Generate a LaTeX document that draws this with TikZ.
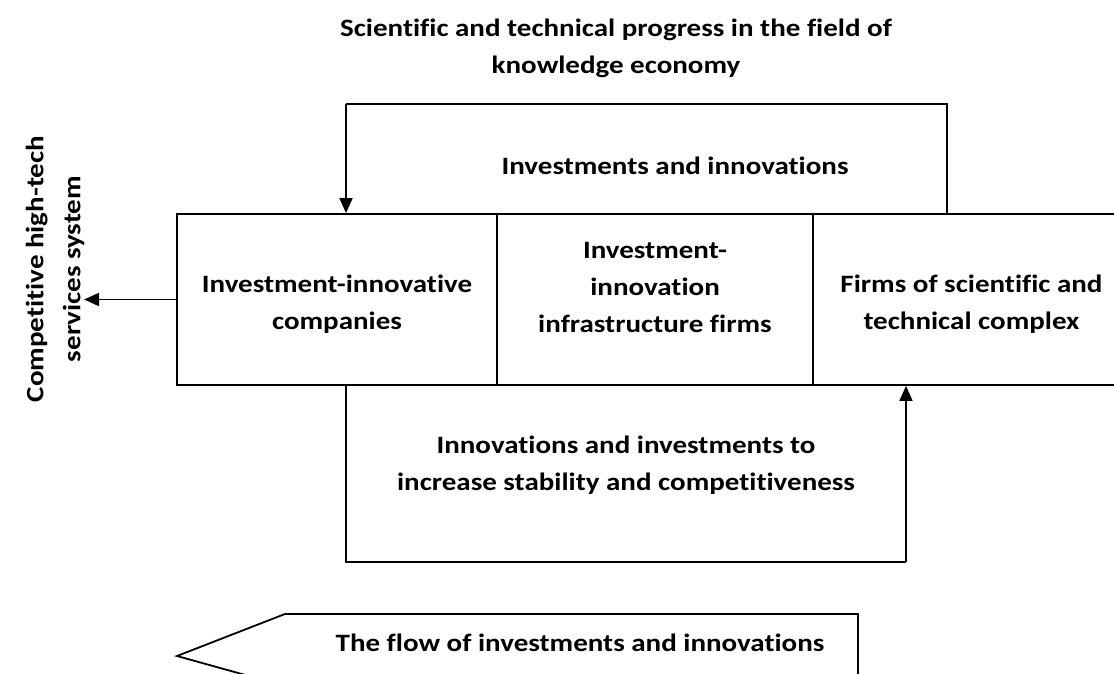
\documentclass[tikz,border=0pt]{standalone}
\usepackage{fontspec}
\setmainfont{Carlito}[FakeStretch=1.16, Ligatures=NoCommon]
\usetikzlibrary{arrows.meta}
\tikzset{
  txt/.style={font=\fontsize{25}{37}\selectfont\bfseries, align=center, inner sep=0pt},
  box/.style={draw, line width=1.8pt, minimum height=171pt, inner sep=0pt},
  line/.style={line width=1.8pt},
  arr/.style={line width=1.6pt, -{Triangle[length=15pt,width=13pt]}},
}
\begin{document}
\begin{tikzpicture}[x=1pt,y=-1pt]
\useasboundingbox (0,0) rectangle (1114,674);
\clip (0,0) rectangle (1114,674);
% title
\node[txt] (title) at (616,48) {Scientific and technical progress in the field of\\knowledge economy};
% boxes
\node[box, minimum width=320pt] (comp) at (337,299.5) {};
\node[txt] (comptxt) at ([yshift=-5pt]comp.center) {Investment-innovative\\companies};
\node[box, minimum width=316pt] (mid) at (655,299.5) {};
\node[txt] (midtxt) at ([yshift=12pt]mid.center) {Investment-\\innovation\\infrastructure firms};
\node[box, minimum width=317pt] (firms) at (971.5,299.5) {};
\node[txt] (firmstxt) at ([yshift=-5pt]firms.center) {Firms of scientific and\\technical complex};
% top loop
\coordinate (tr) at (947,104);
\coordinate (tl) at (346,104);
\draw[line] (firms.north -| tr) -- (tr) -- (tl);
\draw[arr] (tl) -- (comp.north -| tl);
\node[txt] (inv) at (675,166) {Investments and innovations};
% bottom loop
\coordinate (bl) at (346,562);
\coordinate (br) at (906,562);
\draw[line] (comp.south -| bl) -- (bl) -- (br);
\draw[arr] (br) -- (firms.south -| br);
\node[txt] (stab) at (626,465) {Innovations and investments to\\increase stability and competitiveness};
% output
\coordinate (out) at (84,299.5);
\draw[arr] (comp.west) -- (out);
\node[txt, rotate=90] (sys) at (55,269) {Competitive high-tech\\services system};
% flow arrow
\draw[line] (858,700) -- (858,614) -- (285,614) -- (177,656) -- (285,686);
\node[txt] (flow) at (580,643) {The flow of investments and innovations};
\end{tikzpicture}
\end{document}
